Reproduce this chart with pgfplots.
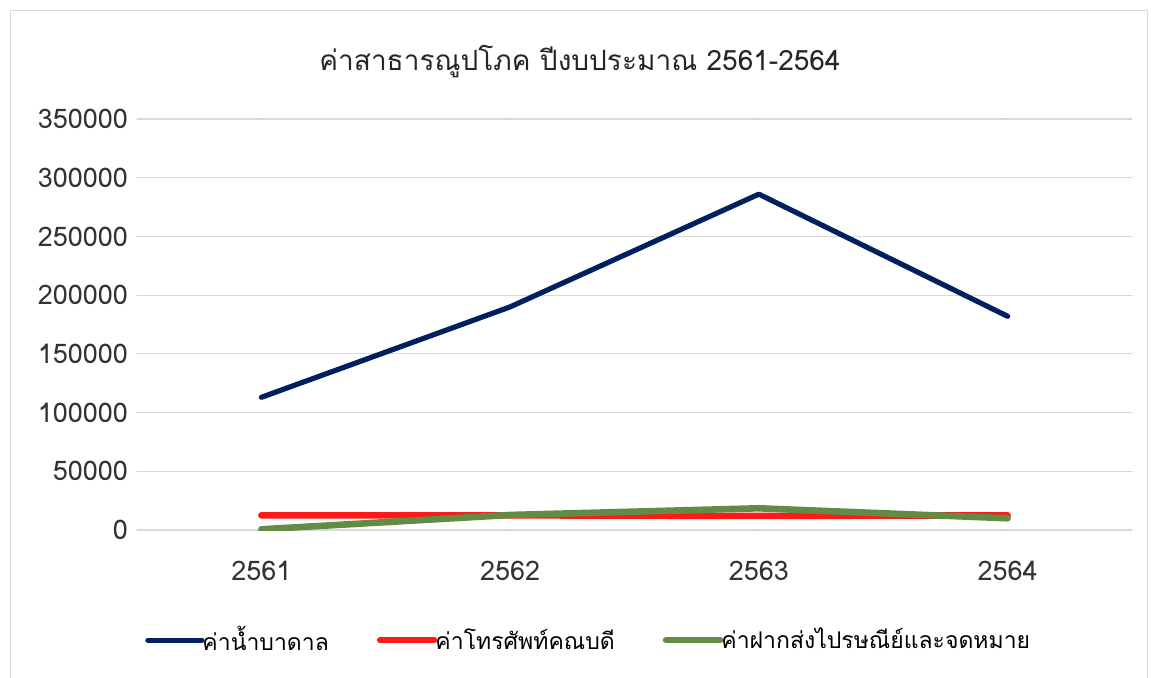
\documentclass[border=0pt]{standalone}
\usepackage{pgfplots}
\pgfplotsset{compat=1.18}
\usepackage{fontspec}
\setmainfont[Script=Thai]{Loma}
\definecolor{navyc}{HTML}{002060}
\definecolor{redc}{HTML}{FF1A1A}
\definecolor{greenc}{HTML}{628C46}
\definecolor{gridc}{HTML}{D9D9D9}
\begin{document}
\begin{tikzpicture}
\path[use as bounding box] (0,0) rectangle (575.5pt,338.5pt);
\draw[gridc] (5pt,-5pt) rectangle (573.5pt,333.5pt);
\node[font=\fontsize{14}{16}\selectfont, text=black!85] at (290pt,307.5pt) {ค่าสาธารณูปโภค ปีงบประมาณ 2561-2564};
\begin{axis}[
  at={(68.5pt,73.5pt)}, anchor=south west,
  scale only axis, width=497.5pt, height=205.5pt,
  xmin=-0.5, xmax=3.5, ymin=0, ymax=350000,
  xtick={0,1,2,3}, xticklabels={2561,2562,2563,2564},
  ytick={0,50000,...,350000},
  scaled y ticks=false,
  /pgf/number format/assume math mode=true,
  yticklabel={\pgfmathprintnumber[fixed,1000 sep={}]{\tick}},
  ymajorgrids, grid style={gridc, line width=0.6pt},
  axis line style={draw=none},
  major tick length=0pt,
  tick label style={font=\fontsize{13.5}{15}\selectfont, text=black!80},
  xticklabel style={yshift=-12pt},
  yticklabel style={xshift=-1pt},
  legend style={at={(0.455,-0.268)}, anchor=center, draw=none, fill=none,
    legend columns=-1, font=\fontsize{11.5}{13}\selectfont,
    /tikz/every even column/.append style={column sep=22pt},
    /tikz/every odd column/.append style={column sep=-3pt}},
  legend image code/.code={\draw[#1, line cap=round] (0pt,0pt) -- (27pt,0pt);},
  line cap=round, line join=round,
]
\addplot[navyc, line width=2.6pt] coordinates {(0,113000) (1,190000) (2,286000) (3,182000)};
\addlegendentry{ค่าน้ำบาดาล}
\addplot[redc, line width=3.3pt] coordinates {(0,12500) (1,12500) (2,12000) (3,12500)};
\addlegendentry{ค่าโทรศัพท์คณบดี}
\addplot[greenc, line width=3.3pt] coordinates {(0,600) (1,12800) (2,18500) (3,10000)};
\addlegendentry{ค่าฝากส่งไปรษณีย์และจดหมาย}
\end{axis}
\end{tikzpicture}
\end{document}
